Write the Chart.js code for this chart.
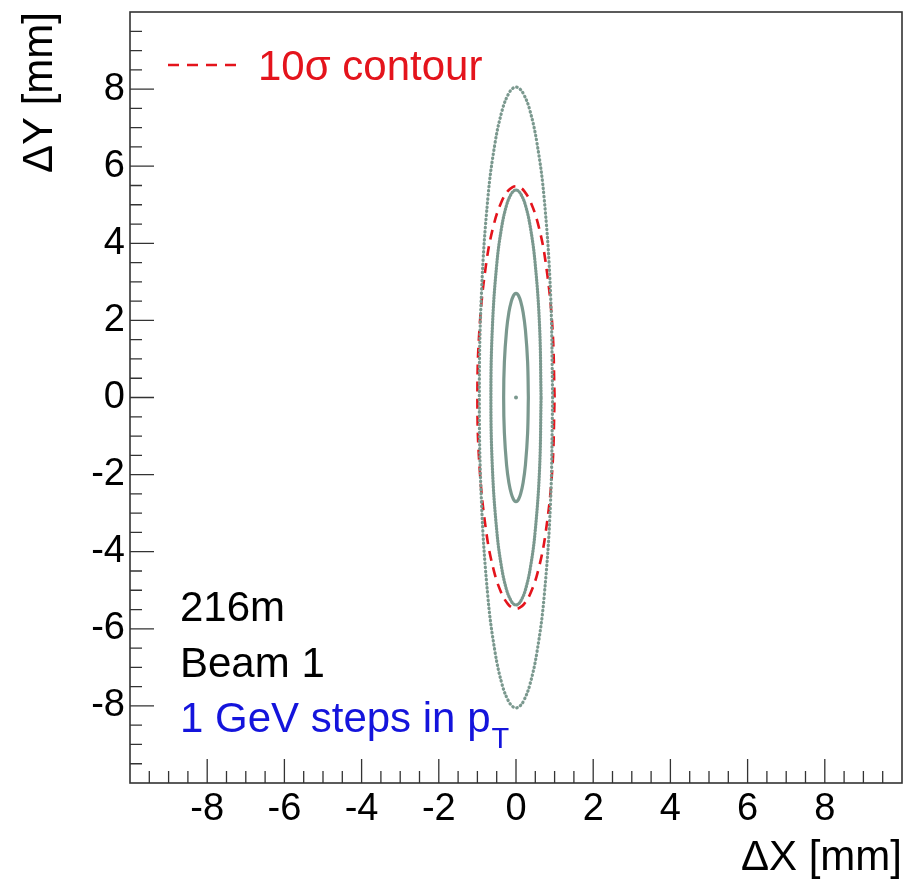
<!DOCTYPE html>
<html>
<head>
<meta charset="utf-8">
<script src="https://cdn.jsdelivr.net/npm/chart.js@4.4.1/dist/chart.umd.min.js"></script>
<style>
  body { margin: 0; background: #fff; }
  #wrap { width: 907px; height: 887px; }
</style>
</head>
<body>
<div id="wrap"><canvas id="beamChart" width="907" height="887"></canvas></div>
<script>
// one quarter of each contour (x >= 0, y >= 0), side -> top
const outerQuarter = [[0.95, 0], [0.893, 2.75], [0.728, 5.18], [0.545, 6.59], [0.356, 7.46], [0.198, 7.87], [0.083, 8.02], [0, 8.05]];
const middleQuarter = [[0.65, 0], [0.611, 1.84], [0.498, 3.46], [0.373, 4.41], [0.244, 4.99], [0.135, 5.26], [0.057, 5.36], [0, 5.38]];
const innerQuarter = [[0.32, 0], [0.301, 0.92], [0.245, 1.74], [0.184, 2.21], [0.12, 2.5], [0.067, 2.64], [0.028, 2.69], [0, 2.7]];
const sigmaQuarter = [[1.0, 0], [0.94, 1.87], [0.766, 3.52], [0.574, 4.49], [0.375, 5.08], [0.208, 5.36], [0.087, 5.46], [0, 5.48]];
const beamCentre = [[0, 0]];

const axisMin = -10;
const axisMax = 10;
const majorStep = 2;
const minorStep = 0.5;

const gray = "rgb(122,152,142)";
const red = "#e4141c";
const blue = "#1414dc";
const fontName = "'Liberation Sans', Arial, sans-serif";

// the quarter is mirrored into a closed loop
function closeLoop(q) {
  const pts = [];
  q.forEach(p => pts.push({ x: p[0], y: p[1] }));
  q.slice(0, -1).reverse().forEach(p => pts.push({ x: -p[0], y: p[1] }));
  q.slice(1).forEach(p => pts.push({ x: -p[0], y: -p[1] }));
  q.slice(0, -1).reverse().forEach(p => pts.push({ x: p[0], y: -p[1] }));
  return pts;
}

// ROOT style frame and inward ticks
const framePlugin = {
  id: "frame",
  afterDatasetsDraw(chart) {
    const { ctx, chartArea: a, scales: { x, y } } = chart;
    ctx.save();
    ctx.strokeStyle = "#333";
    ctx.lineWidth = 1.6;
    ctx.strokeRect(a.left, a.top, a.right - a.left, a.bottom - a.top);
    ctx.lineWidth = 1.3;
    ctx.beginPath();
    for (let v = axisMin + minorStep; v < axisMax; v += minorStep) {
      const len = Math.abs(v % majorStep) < 1e-6 ? 24 : 12;
      const px = x.getPixelForValue(v);
      ctx.moveTo(px, a.bottom);
      ctx.lineTo(px, a.bottom - len);
      const py = y.getPixelForValue(v);
      ctx.moveTo(a.left, py);
      ctx.lineTo(a.left + len, py);
    }
    ctx.stroke();

    // legend
    ctx.strokeStyle = red;
    ctx.lineWidth = 2.6;
    ctx.setLineDash([11, 8]);
    ctx.beginPath();
    ctx.moveTo(a.left + 38, a.top + 53);
    ctx.lineTo(a.left + 108, a.top + 53);
    ctx.stroke();
    ctx.setLineDash([]);
    ctx.font = "42px " + fontName;
    ctx.textBaseline = "alphabetic";
    ctx.fillStyle = red;
    ctx.fillText("10σ contour", a.left + 128, a.top + 68);

    // labels
    ctx.fillStyle = "#000";
    ctx.fillText("216m", a.left + 50, 621);
    ctx.fillText("Beam 1", a.left + 50, 677);
    ctx.fillStyle = blue;
    const s = "1 GeV steps in p";
    ctx.fillText(s, a.left + 50, 732);
    const w = ctx.measureText(s).width;
    ctx.font = "29px " + fontName;
    ctx.fillText("T", a.left + 50 + w + 1, 748);
    ctx.restore();
  }
};

const ctx = document.getElementById("beamChart").getContext("2d");

new Chart(ctx, {
  type: "scatter",
  data: {
    datasets: [
      {
        data: closeLoop(outerQuarter),
        showLine: true,
        borderColor: gray,
        borderWidth: 3.2,
        borderDash: [0.5, 3.6],
        borderCapStyle: "round",
        tension: 0.4,
        pointRadius: 0
      },
      {
        data: closeLoop(middleQuarter),
        showLine: true,
        borderColor: gray,
        borderWidth: 3.2,
        borderDash: [1, 2],
        borderCapStyle: "round",
        tension: 0.4,
        pointRadius: 0
      },
      {
        data: closeLoop(innerQuarter),
        showLine: true,
        borderColor: gray,
        borderWidth: 3.2,
        tension: 0.4,
        pointRadius: 0
      },
      {
        data: closeLoop(sigmaQuarter),
        showLine: true,
        borderColor: red,
        borderWidth: 2.6,
        borderDash: [10, 7],
        tension: 0.4,
        pointRadius: 0
      },
      {
        data: beamCentre.map(p => ({ x: p[0], y: p[1] })),
        pointRadius: 2,
        pointBackgroundColor: gray,
        pointBorderWidth: 0
      }
    ]
  },
  options: {
    responsive: false,
    animation: false,
    layout: { padding: { top: 12, right: 5, left: 0, bottom: 0 } },
    plugins: {
      legend: { display: false },
      tooltip: { enabled: false }
    },
    scales: {
      x: {
        type: "linear",
        min: axisMin,
        max: axisMax,
        grid: { display: false, drawTicks: false },
        border: { display: false },
        afterFit: s => { s.height = 104; s.paddingLeft = 0; s.paddingRight = 0; },
        ticks: {
          stepSize: majorStep,
          padding: 4,
          color: "#000",
          font: { family: fontName, size: 38 },
          maxRotation: 0,
          callback: v => (Math.abs(v) >= 10 ? "" : v)
        },
        title: {
          display: true,
          text: "ΔX [mm]",
          align: "end",
          color: "#000",
          font: { family: fontName, size: 42, lineHeight: 1 },
          padding: { bottom: 8 }
        }
      },
      y: {
        type: "linear",
        min: axisMin,
        max: axisMax,
        grid: { display: false, drawTicks: false },
        border: { display: false },
        afterFit: s => { s.width = 130; s.paddingTop = 0; s.paddingBottom = 0; },
        ticks: {
          stepSize: majorStep,
          padding: 5,
          color: "#000",
          font: { family: fontName, size: 38 },
          callback: v => (Math.abs(v) >= 10 ? "" : v)
        },
        title: {
          display: true,
          text: "ΔY [mm]",
          align: "end",
          color: "#000",
          font: { family: fontName, size: 42, lineHeight: 1 },
          padding: { top: 19 }
        }
      }
    }
  },
  plugins: [framePlugin]
});
</script>
</body>
</html>
